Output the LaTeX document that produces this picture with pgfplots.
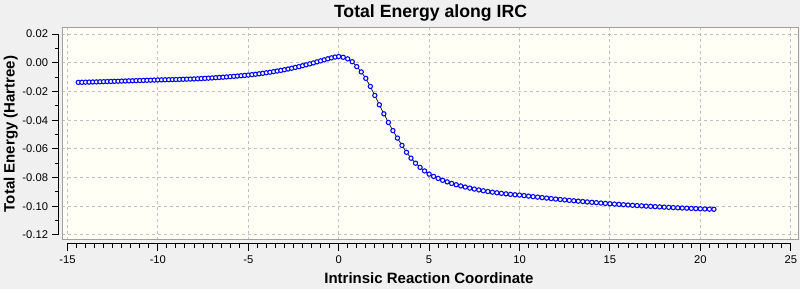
\documentclass[border=0pt]{standalone}
\usepackage{pgfplots}
\pgfplotsset{compat=1.18}
\usepackage{fontspec}
\setmainfont{Liberation Sans}
\definecolor{outerbg}{RGB}{240,240,240}
\definecolor{plotbg}{RGB}{255,255,246}
\definecolor{framegray}{RGB}{160,160,160}
\definecolor{gridgray}{RGB}{192,192,192}
\definecolor{markblue}{RGB}{0,0,255}
\begin{document}
\begin{tikzpicture}
\fill[outerbg] (0,0) rectangle (600pt,216.75pt);
% main plotting area
\begin{axis}[
  scale only axis,
  width=552pt, height=159pt,
  at={(46.5pt,36.75pt)}, anchor=south west,
  xmin=-15.3, xmax=25.4, ymin=-0.1235, ymax=0.0242,
  axis background/.style={fill=plotbg},
  axis line style={draw=framegray, line width=0.75pt},
  xtick={-15,-10,-5,0,5,10,15,20,25},
  ytick={-0.12,-0.10,-0.08,-0.06,-0.04,-0.02,0,0.02},
  xticklabels={}, yticklabels={},
  tick style={draw=none},
  grid=major,
  major grid style={draw=gridgray, line width=0.75pt, dash pattern=on 2.25pt off 2.25pt},
  title={Total Energy along IRC},
  every axis title/.style={at={(axis description cs:0.5007,1.0472)}, anchor=base, font=\bfseries\fontsize{13.25}{15}\selectfont, inner sep=0pt},
  xlabel={Intrinsic Reaction Coordinate},
  every axis x label/.style={at={(axis description cs:0.4986,-0.2042)}, anchor=base, font=\bfseries\fontsize{11.25}{13}\selectfont, inner sep=0pt},
  ylabel={Total Energy (Hartree)},
  every axis y label/.style={at={(axis description cs:-0.0645,0.5)}, rotate=90, anchor=base, font=\bfseries\fontsize{11.25}{13}\selectfont, inner sep=0pt},
]
\addplot[black, line width=0.5pt, mark=*, mark size=1.6pt,
  mark options={draw=markblue, fill=white, line width=0.8pt}] table {
x y
-14.4 -0.01370
-14.2 -0.01363
-14.0 -0.01356
-13.8 -0.01349
-13.6 -0.01342
-13.4 -0.01336
-13.2 -0.01328
-13.0 -0.01320
-12.8 -0.01312
-12.6 -0.01304
-12.4 -0.01296
-12.2 -0.01288
-12.0 -0.01280
-11.8 -0.01272
-11.6 -0.01264
-11.4 -0.01256
-11.2 -0.01248
-11.0 -0.01240
-10.8 -0.01232
-10.6 -0.01224
-10.4 -0.01216
-10.2 -0.01208
-10.0 -0.01200
-9.8 -0.01194
-9.6 -0.01188
-9.4 -0.01182
-9.2 -0.01176
-9.0 -0.01170
-8.8 -0.01163
-8.6 -0.01155
-8.4 -0.01146
-8.2 -0.01138
-8.0 -0.01130
-7.8 -0.01117
-7.6 -0.01103
-7.4 -0.01089
-7.2 -0.01075
-7.0 -0.01060
-6.8 -0.01043
-6.6 -0.01025
-6.4 -0.01007
-6.2 -0.00989
-6.0 -0.00970
-5.8 -0.00950
-5.6 -0.00929
-5.4 -0.00907
-5.2 -0.00884
-5.0 -0.00860
-4.8 -0.00832
-4.6 -0.00803
-4.4 -0.00772
-4.2 -0.00738
-4.0 -0.00700
-3.8 -0.00661
-3.6 -0.00621
-3.4 -0.00579
-3.2 -0.00535
-3.0 -0.00490
-2.8 -0.00438
-2.6 -0.00383
-2.4 -0.00327
-2.2 -0.00270
-2.0 -0.00210
-1.8 -0.00146
-1.6 -0.00080
-1.4 -0.00015
-1.2 0.00060
-1.0 0.00130
-0.8 0.00200
-0.6 0.00275
-0.4 0.00340
-0.2 0.00395
0.0 0.00430
0.25 0.00380
0.5 0.00270
0.75 0.00070
1.0 -0.00270
1.25 -0.00640
1.5 -0.01090
1.75 -0.01650
2.0 -0.02280
2.25 -0.02930
2.5 -0.03560
2.75 -0.04160
3.0 -0.04730
3.25 -0.05250
3.5 -0.05760
3.75 -0.06240
4.0 -0.06650
4.25 -0.07000
4.5 -0.07290
4.75 -0.07540
5.0 -0.07760
5.25 -0.07920
5.5 -0.08060
5.75 -0.08190
6.0 -0.08300
6.25 -0.08410
6.5 -0.08500
6.75 -0.08585
7.0 -0.08660
7.25 -0.08735
7.5 -0.08800
7.75 -0.08862
8.0 -0.08920
8.25 -0.08972
8.5 -0.09020
8.75 -0.09062
9.0 -0.09100
9.25 -0.09137
9.5 -0.09170
9.75 -0.09198
10.0 -0.09220
10.25 -0.09257
10.5 -0.09293
10.75 -0.09328
11.0 -0.09362
11.25 -0.09396
11.5 -0.09430
11.75 -0.09463
12.0 -0.09496
12.25 -0.09528
12.5 -0.09560
12.75 -0.09589
13.0 -0.09617
13.25 -0.09645
13.5 -0.09672
13.75 -0.09699
14.0 -0.09725
14.25 -0.09751
14.5 -0.09776
14.75 -0.09800
15.0 -0.09824
15.25 -0.09847
15.5 -0.09869
15.75 -0.09891
16.0 -0.09912
16.25 -0.09932
16.5 -0.09952
16.75 -0.09971
17.0 -0.09990
17.25 -0.10008
17.5 -0.10026
17.75 -0.10043
18.0 -0.10060
18.25 -0.10076
18.5 -0.10092
18.75 -0.10107
19.0 -0.10122
19.25 -0.10136
19.5 -0.10150
19.75 -0.10163
20.0 -0.10176
20.25 -0.10188
20.5 -0.10199
20.75 -0.10210
};
\end{axis}
% detached x axis
\begin{axis}[
  scale only axis,
  width=542.51pt, height=10pt,
  at={(50.569pt,33.75pt)}, anchor=south west,
  xmin=-15, xmax=25, ymin=0, ymax=1,
  axis x line*=bottom, axis y line=none,
  x axis line style={-, black, line width=0.75pt},
  xtick={-15,-10,-5,0,5,10,15,20,25},
  minor x tick num=9,
  tick align=outside,
  major tick length=5.25pt, minor tick length=3pt,
  every tick/.style={black, line width=0.75pt},
  /pgf/number format/assume math mode=true,
  xticklabel style={font=\fontsize{8.4}{10}\selectfont, anchor=base, yshift=-9.75pt, inner sep=0pt},
]
\end{axis}
% detached y axis
\begin{axis}[
  scale only axis,
  width=10pt, height=150.71pt,
  at={(44pt,40.52pt)}, anchor=south west,
  ymin=-0.12, ymax=0.02, xmin=0, xmax=1,
  axis y line*=left, axis x line=none,
  y axis line style={-, black, line width=0.75pt},
  ytick={-0.12,-0.10,-0.08,-0.06,-0.04,-0.02,0,0.02},
  minor y tick num=1,
  tick align=outside,
  major tick length=5.25pt, minor tick length=3pt,
  every tick/.style={black, line width=0.75pt},
  /pgf/number format/assume math mode=true,
  yticklabel style={font=\fontsize{8.4}{10}\selectfont, anchor=east, xshift=-2.55pt, inner sep=0pt,
    /pgf/number format/.cd, fixed, fixed zerofill, precision=2},
  scaled y ticks=false,
]
\end{axis}
\pgfresetboundingbox
\path (0,0) rectangle (600pt,216.75pt);
\end{tikzpicture}
\end{document}
